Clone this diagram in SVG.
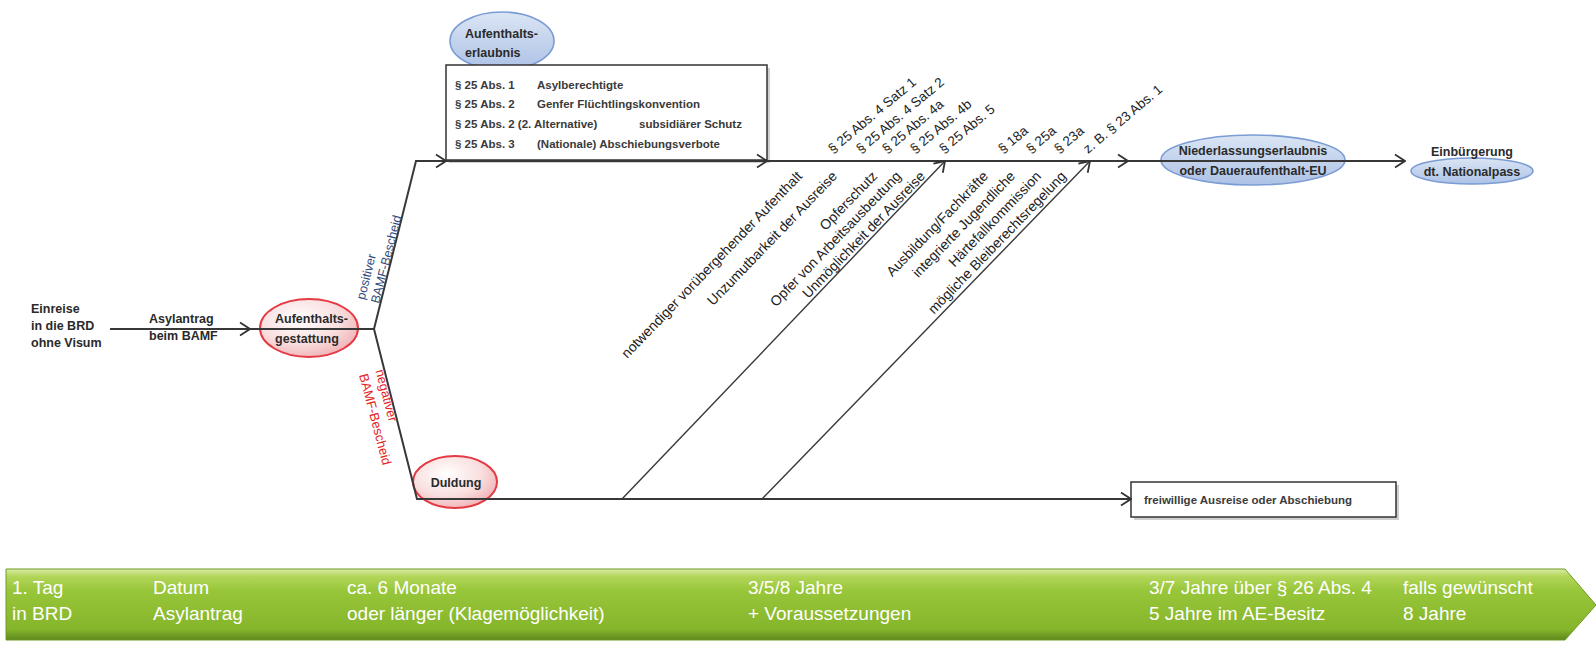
<svg xmlns="http://www.w3.org/2000/svg" width="1596" height="645" viewBox="0 0 1596 645">
<style>
text { font-family: "Liberation Sans", Arial, sans-serif; }
.nb { font-weight: bold; font-size: 12.5px; fill: #2a2a2a; }
.bx { font-weight: bold; font-size: 11.5px; fill: #3a3a3a; }
.lbl { font-size: 14px; fill: #222; }
.par { font-size: 13.5px; fill: #222; }
.pos { font-size: 12.5px; fill: #2c4a7c; }
.neg { font-size: 13px; fill: #e42424; }
.tl { font-size: 19px; fill: #ffffff; }
.ln { fill: none; stroke: #383838; stroke-width: 2; }
.dg { fill: none; stroke: #383838; stroke-width: 1.4; }
.blue { fill: url(#gBlue); stroke: #7b9cd4; stroke-width: 1.6; }
.red { fill: url(#gRed); stroke: #e53a44; stroke-width: 2; }
.box { fill: #fff; stroke: #333; stroke-width: 1.5; }
</style>
<defs>
  <marker id="arr" viewBox="0 0 12 16" refX="11" refY="8" markerWidth="12" markerHeight="16" markerUnits="userSpaceOnUse" orient="auto">
    <path d="M1,1.5 L11,8 L1,14.5" fill="none" stroke="#333" stroke-width="1.8"/>
  </marker>
  <linearGradient id="gBlue" x1="0" y1="0" x2="0" y2="1">
    <stop offset="0" stop-color="#dbe5f4"/>
    <stop offset="1" stop-color="#adc2e6"/>
  </linearGradient>
  <radialGradient id="gRed" cx="0.4" cy="0.35" r="0.7">
    <stop offset="0" stop-color="#ffffff"/>
    <stop offset="0.6" stop-color="#f9dede"/>
    <stop offset="1" stop-color="#f0b0b4"/>
  </radialGradient>
  <linearGradient id="gGreen" x1="0" y1="0" x2="0" y2="1">
    <stop offset="0" stop-color="#dcecaa"/>
    <stop offset="0.1" stop-color="#b3d65a"/>
    <stop offset="0.3" stop-color="#98c63a"/>
    <stop offset="0.85" stop-color="#85b52b"/>
    <stop offset="1" stop-color="#5d871c"/>
  </linearGradient>
</defs>

<rect width="1596" height="645" fill="#ffffff"/>

<!-- timeline -->
<g id="timeline">
  <polygon points="6,569 1565,569 1596,605 1565,640 6,640" fill="url(#gGreen)" stroke="#6f9a25" stroke-width="1"/>
  <text class="tl" x="12" y="594">1. Tag</text>
  <text class="tl" x="12" y="620">in BRD</text>
  <text class="tl" x="153" y="594">Datum</text>
  <text class="tl" x="153" y="620">Asylantrag</text>
  <text class="tl" x="347" y="594">ca. 6 Monate</text>
  <text class="tl" x="347" y="620">oder länger (Klagemöglichkeit)</text>
  <text class="tl" x="748" y="594">3/5/8 Jahre</text>
  <text class="tl" x="748" y="620">+ Voraussetzungen</text>
  <text class="tl" x="1149" y="594">3/7 Jahre über § 26 Abs. 4</text>
  <text class="tl" x="1149" y="620">5 Jahre im AE-Besitz</text>
  <text class="tl" x="1403" y="594">falls gewünscht</text>
  <text class="tl" x="1403" y="620">8 Jahre</text>
</g>

<g id="einreise">
  <text class="nb" x="31" y="313">Einreise</text>
  <text class="nb" x="31" y="330">in die BRD</text>
  <text class="nb" x="31" y="347">ohne Visum</text>
</g>

<g id="asylantrag">
  <text class="nb" x="149" y="323">Asylantrag</text>
  <text class="nb" x="149" y="340">beim BAMF</text>
</g>

<g id="gestattung">
  <ellipse class="red" cx="309" cy="328" rx="49" ry="29"/>
  <text class="nb" x="275" y="323">Aufenthalts-</text>
  <text class="nb" x="275" y="343">gestattung</text>
</g>

<g id="duldung">
  <ellipse class="red" cx="455" cy="482" rx="42" ry="26"/>
  <text class="nb" x="456" y="487" text-anchor="middle">Duldung</text>
</g>

<g id="erlaubnis">
  <ellipse class="blue" cx="502" cy="41" rx="52" ry="29"/>
  <text class="nb" x="465" y="38">Aufenthalts-</text>
  <text class="nb" x="465" y="57">erlaubnis</text>
</g>

<g id="box25">
  <rect x="449" y="68" width="321" height="95" fill="#d0d0d0"/>
  <rect class="box" x="446" y="65" width="321" height="95"/>
  <text class="bx" x="455" y="89">§ 25 Abs. 1</text>
  <text class="bx" x="537" y="89">Asylberechtigte</text>
  <text class="bx" x="455" y="108">§ 25 Abs. 2</text>
  <text class="bx" x="537" y="108">Genfer Flüchtlingskonvention</text>
  <text class="bx" x="455" y="128">§ 25 Abs. 2 (2. Alternative)</text>
  <text class="bx" x="639" y="128">subsidiärer Schutz</text>
  <text class="bx" x="455" y="148">§ 25 Abs. 3</text>
  <text class="bx" x="537" y="148">(Nationale) Abschiebungsverbote</text>
</g>

<g id="niederlassung">
  <ellipse class="blue" cx="1253" cy="160" rx="92" ry="25"/>
  <text class="nb" x="1253" y="155" text-anchor="middle">Niederlassungserlaubnis</text>
  <text class="nb" x="1253" y="175" text-anchor="middle">oder Daueraufenthalt-EU</text>
</g>

<g id="einbuergerung">
  <ellipse class="blue" cx="1472" cy="171" rx="61" ry="13"/>
  <text class="nb" x="1472" y="156" text-anchor="middle">Einbürgerung</text>
  <text class="nb" x="1472" y="176" text-anchor="middle">dt. Nationalpass</text>
</g>

<g id="freiwillig">
  <rect x="1134" y="485" width="265" height="35" fill="#cfcfcf"/>
  <rect class="box" x="1131" y="482" width="265" height="35"/>
  <text class="bx" x="1144" y="504" font-size="12.5">freiwillige Ausreise oder Abschiebung</text>
</g>

<g id="connectors">
  <path class="ln" d="M110,329 L250,329" marker-end="url(#arr)"/>
  <path class="ln" d="M250,329 L374,329"/>
  <path class="ln" d="M374,329 L416,161 L446,161" marker-end="url(#arr)"/>
  <path class="ln" d="M446,161 L767,161" marker-end="url(#arr)"/>
  <path class="ln" d="M767,161 L1128,161" marker-end="url(#arr)"/>
  <path class="ln" d="M1128,161 L1405,161" marker-end="url(#arr)"/>
  <path class="ln" d="M374,329 L417,499 L1131,499" marker-end="url(#arr)"/>
  <path class="dg" d="M622,499 L945,161" marker-end="url(#arr)"/>
  <path class="dg" d="M762,499 L1090,161" marker-end="url(#arr)"/>
</g>

<g id="branch-labels">
  <g transform="translate(379,304) rotate(-75.6)">
    <text class="pos" x="0" y="-15">positiver</text>
    <text class="pos" x="0" y="0">BAMF-Bescheid</text>
  </g>
  <g transform="translate(359,375) rotate(75.3)">
    <text class="neg" x="0" y="-17">negativer</text>
    <text class="neg" x="0" y="0">BAMF-Bescheid</text>
  </g>
</g>

<g id="reasons">
  <text class="lbl" text-anchor="end" transform="translate(803,177) rotate(-46)">notwendiger vorübergehender Aufenthalt</text>
  <text class="lbl" text-anchor="end" transform="translate(838,177) rotate(-46)">Unzumutbarkeit der Ausreise</text>
  <text class="lbl" text-anchor="end" transform="translate(878,177) rotate(-46)">Opferschutz</text>
  <text class="lbl" text-anchor="end" transform="translate(902,177) rotate(-46)">Opfer von Arbeitsausbeutung</text>
  <text class="lbl" text-anchor="end" transform="translate(926,177) rotate(-46)">Unmöglichkeit der Ausreise</text>
  <text class="lbl" text-anchor="end" transform="translate(989,177) rotate(-46)">Ausbildung/Fachkräfte</text>
  <text class="lbl" text-anchor="end" transform="translate(1016,177) rotate(-46)">integrierte Jugendliche</text>
  <text class="lbl" text-anchor="end" transform="translate(1042,177) rotate(-46)">Härtefallkommission</text>
  <text class="lbl" text-anchor="end" transform="translate(1067,177) rotate(-46)">mögliche Bleiberechtsregelung</text>
</g>

<g id="paragraphs">
  <text class="par" transform="translate(833,154) rotate(-40)">§ 25 Abs. 4 Satz 1</text>
  <text class="par" transform="translate(861,154) rotate(-40)">§ 25 Abs. 4 Satz 2</text>
  <text class="par" transform="translate(887,154) rotate(-40)">§ 25 Abs. 4a</text>
  <text class="par" transform="translate(915,154) rotate(-40)">§ 25 Abs. 4b</text>
  <text class="par" transform="translate(944,154) rotate(-40)">§ 25 Abs. 5</text>
  <text class="par" transform="translate(1003,154) rotate(-40)">§ 18a</text>
  <text class="par" transform="translate(1031,154) rotate(-40)">§ 25a</text>
  <text class="par" transform="translate(1059,154) rotate(-40)">§ 23a</text>
  <text class="par" transform="translate(1088,154) rotate(-40)">z. B. § 23 Abs. 1</text>
</g>
</svg>
